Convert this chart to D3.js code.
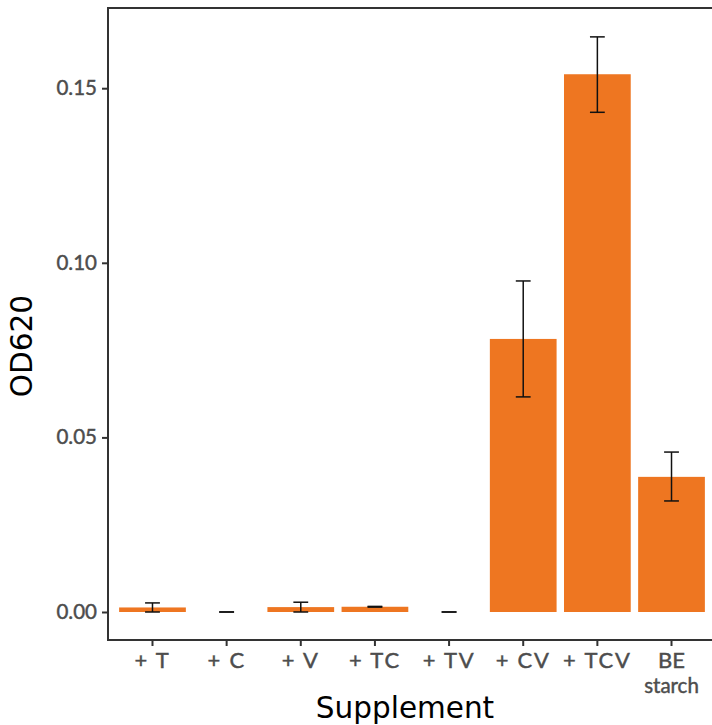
<!DOCTYPE html>
<html>
<head>
<meta charset="utf-8">
<script src="https://cdn.jsdelivr.net/npm/d3@7"></script>
<style>
  body { margin: 0; background: #fff; }
  svg { display: block; }
</style>
</head>
<body>
<svg id="chart" width="712" height="725"></svg>
<script>
const categories = ["+ T", "+ C", "+ V", "+ TC", "+ TV", "+ CV", "+ TCV", "BE\nstarch"];
const meanValues = [0.0013, 0.0000, 0.0014, 0.0015, 0.0000, 0.0782, 0.1540, 0.0387];
const lowerValues = [0.0000, 0.0000, 0.0000, 0.0014, 0.0000, 0.0616, 0.1431, 0.0318];
const upperValues = [0.0026, 0.0000, 0.0028, 0.0016, 0.0000, 0.0948, 0.1647, 0.0458];
const yTicks = [0.00, 0.05, 0.10, 0.15];

const data = categories.map((c, i) => ({ cat: c, mean: meanValues[i], lo: lowerValues[i], hi: upperValues[i] }));

const svg = d3.select("#chart");
const pLeft = 108, pRight = 716, pTop = 8, pBottom = 640;

const x = d3.scaleBand().domain(categories).range([pLeft, pRight]).paddingInner(0).paddingOuter(0.1);
const y = d3.scaleLinear().domain([-0.00802, 0.17297]).range([pBottom, pTop]);

const step = x.step();
const barW = step * 0.9;
const capW = step * 0.2;

// bars
svg.append("g").selectAll("rect").data(data).join("rect")
  .attr("x", d => x(d.cat) + step / 2 - barW / 2)
  .attr("width", barW)
  .attr("y", d => y(Math.max(0, d.mean)))
  .attr("height", d => Math.abs(y(0) - y(d.mean)))
  .attr("fill", "#EE7621");

// error bars
const eb = svg.append("g").attr("stroke", "#111").attr("stroke-width", 1.5).attr("fill", "none");
data.forEach(d => {
  const cx = x(d.cat) + step / 2;
  eb.append("line").attr("x1", cx).attr("x2", cx).attr("y1", y(d.lo)).attr("y2", y(d.hi));
  eb.append("line").attr("x1", cx - capW / 2).attr("x2", cx + capW / 2).attr("y1", y(d.lo)).attr("y2", y(d.lo));
  eb.append("line").attr("x1", cx - capW / 2).attr("x2", cx + capW / 2).attr("y1", y(d.hi)).attr("y2", y(d.hi));
});

// panel border
svg.append("rect").attr("x", pLeft).attr("y", pTop).attr("width", pRight - pLeft).attr("height", pBottom - pTop)
  .attr("fill", "none").attr("stroke", "#333").attr("stroke-width", 2);

// y axis
const yAxis = svg.append("g").attr("transform", `translate(${pLeft},0)`)
  .call(d3.axisLeft(y).tickValues(yTicks).tickFormat(d3.format(".2f")).tickSize(6).tickPadding(5));
yAxis.select(".domain").remove();
yAxis.selectAll(".tick line").attr("stroke", "#333").attr("stroke-width", 2);
yAxis.selectAll(".tick text").attr("fill", "#4D4D4D").attr("stroke", "#4D4D4D").attr("stroke-width", 0.45)
  .style("font-family", "Lato").style("font-size", "20.5px");

// x axis
const xAxis = svg.append("g").attr("transform", `translate(0,${pBottom})`)
  .call(d3.axisBottom(x).tickSize(6).tickPadding(4).tickFormat(""));
xAxis.select(".domain").remove();
xAxis.selectAll(".tick line").attr("stroke", "#333").attr("stroke-width", 2);
xAxis.selectAll(".tick").each(function(d) {
  const lines = d.split("\n");
  lines.forEach((ln, i) => {
    const t = d3.select(this).append("text")
      .attr("fill", "#4D4D4D")
      .attr("stroke", "#4D4D4D").attr("stroke-width", 0.45)
      .attr("text-anchor", "middle")
      .style("font-family", "Lato")
      .style("font-size", i === 0 ? "22px" : "20.5px")
      .attr("y", 28 + i * 25)
      .text(ln);
    if (lines.length === 1) t.style("letter-spacing", "1.8px");
  });
});

// axis titles
svg.append("text").attr("x", 405).attr("y", 718).attr("text-anchor", "middle")
  .style("font-family", "DejaVu Sans").style("font-size", "29.5px").attr("fill", "#000").text("Supplement");
svg.append("text").attr("transform", "translate(32,346) rotate(-90)").attr("text-anchor", "middle")
  .style("font-family", "DejaVu Sans").style("font-size", "29.5px").attr("fill", "#000").text("OD620");
</script>
</body>
</html>
